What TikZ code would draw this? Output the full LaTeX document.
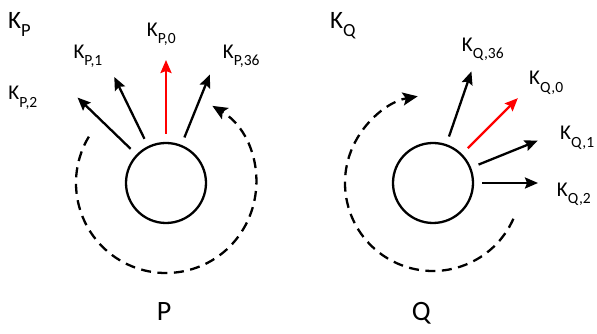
\documentclass[tikz,border=0pt]{standalone}
\usepackage{fontspec}
\setmainfont{Carlito}
\usepackage{graphicx}
\usepackage{tikz}
\usetikzlibrary{arrows.meta}
\newcommand{\kname}[1]{K\raisebox{-0.34em}{\scalebox{0.74}{#1}}}

\tikzset{
  ring/.style={circle,draw,line width=2.3pt,minimum size=80pt,inner sep=0pt},
  karrow/.style={line width=2.3pt,-{Stealth[length=13pt,width=11pt,inset=2pt]},shorten <=8pt},
  turn/.style={line width=2.3pt,dash pattern=on 10pt off 6.5pt,-{Stealth[length=15pt,width=13pt,inset=3pt]}},
  klabel/.style={anchor=base west,inner sep=0pt,font=\fontsize{21}{24}\selectfont},
  setlabel/.style={anchor=base west,inner sep=0pt,font=\fontsize{25}{30}\selectfont},
  bigname/.style={anchor=base west,inner sep=0pt,font=\fontsize{28}{32}\selectfont}
}

\begin{document}
\begin{tikzpicture}[x=1pt,y=1pt]
  \useasboundingbox (0,0) rectangle (597,334);
  % left circle P
  \node[ring] (P) at (166,151) {};
  \coordinate (kp0) at ([shift={(90:123)}]P.center);
  \coordinate (kp1) at ([shift={(116:118)}]P.center);
  \coordinate (kp2) at ([shift={(136:123)}]P.center);
  \coordinate (kp36) at ([shift={(68:117)}]P.center);
  \draw[karrow,red] (P.90) -- (kp0);
  \draw[karrow] (P.116) -- (kp1);
  \draw[karrow] (P.136) -- (kp2);
  \draw[karrow] (P.68) -- (kp36);
  \draw[turn] ([shift={(149:90)}]P.center) arc[start angle=149,end angle=419,radius=90];
  \node[setlabel] (kp) at (8,305.7) {\kname{P}};
  \node[klabel] (kp0lbl) at (146.7,297.3) {\kname{P,0}};
  \node[klabel] (kp1lbl) at (73.3,275.7) {\kname{P,1}};
  \node[klabel] (kp2lbl) at (8.3,234) {\kname{P,2}};
  \node[klabel] (kp36lbl) at (222.7,275.7) {\kname{P,36}};
  \node[bigname] (pname) at (156.7,13.3) {P};
  % right circle Q
  \node[ring] (Q) at (433,151) {};
  \coordinate (kq36) at ([shift={(71:118)}]Q.center);
  \coordinate (kq0) at ([shift={(45:120)}]Q.center);
  \coordinate (kq1) at ([shift={(22:113)}]Q.center);
  \coordinate (kq2) at ([shift={(0:105)}]Q.center);
  \draw[karrow] (Q.71) -- (kq36);
  \draw[karrow,red] (Q.45) -- (kq0);
  \draw[karrow] (Q.22) -- (kq1);
  \draw[karrow] (Q.0) -- (kq2);
  \draw[turn] ([shift={(-24:88)}]Q.center) arc[start angle=-24,end angle=-260,radius=88];
  \node[setlabel] (kq) at (330,305.7) {\kname{Q}};
  \node[klabel] (kq36lbl) at (461.7,282.3) {\kname{Q,36}};
  \node[klabel] (kq0lbl) at (529,249) {\kname{Q,0}};
  \node[klabel] (kq1lbl) at (560,194) {\kname{Q,1}};
  \node[klabel] (kq2lbl) at (556.7,137.3) {\kname{Q,2}};
  \node[bigname] (qname) at (411.7,13.3) {Q};
\end{tikzpicture}
\end{document}
